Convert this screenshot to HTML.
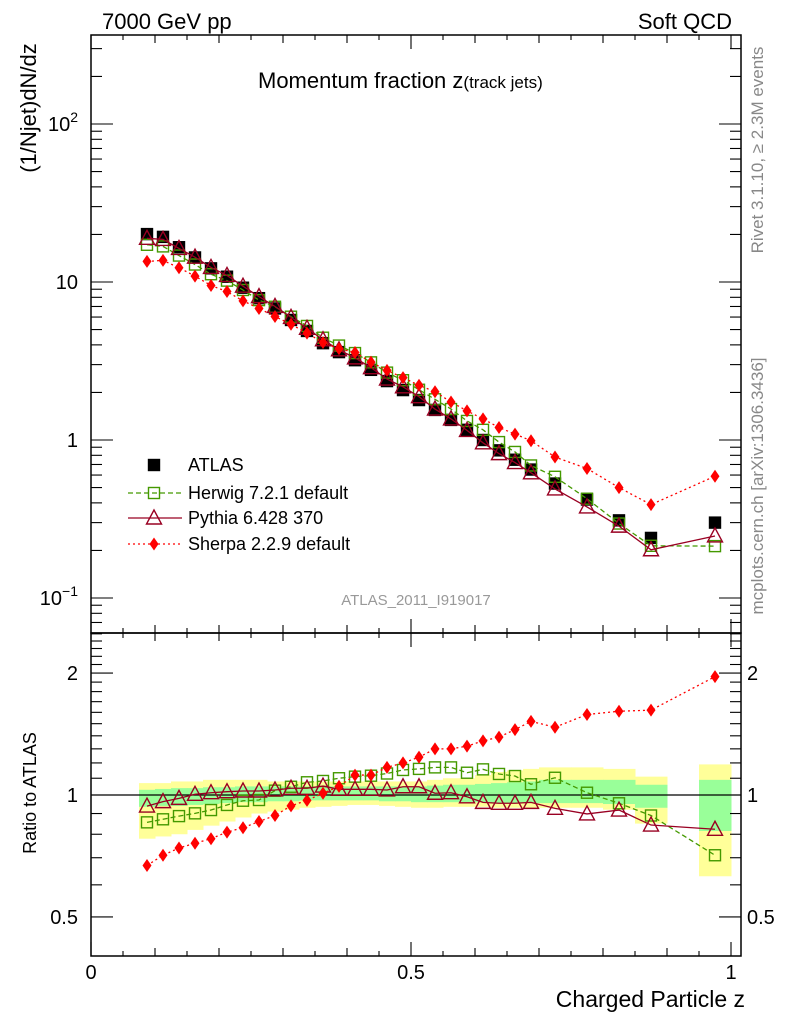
<!DOCTYPE html>
<html><head><meta charset="utf-8"><style>
html,body{margin:0;padding:0;background:#fff}
svg{display:block;font-family:"Liberation Sans",sans-serif}
</style></head><body>
<svg id="c" width="786" height="1024" viewBox="0 0 786 1024" xmlns="http://www.w3.org/2000/svg">
<g id="bands"></g>
<g id="series"></g>
<g id="axes"></g>
<text x="102" y="29" font-size="22">7000 GeV pp</text>
<text x="732" y="29" font-size="22" text-anchor="end">Soft QCD</text>
<text x="258" y="88" font-size="22">Momentum fraction z<tspan font-size="17">(track jets)</tspan></text>
<text x="416" y="605" font-size="15" fill="#999" text-anchor="middle">ATLAS_2011_I919017</text>
<text transform="translate(763,150) rotate(-90)" font-size="17" fill="#888" text-anchor="middle">Rivet 3.1.10, ≥ 2.3M events</text>
<text transform="translate(763,486) rotate(-90)" font-size="17" fill="#888" text-anchor="middle">mcplots.cern.ch [arXiv:1306.3436]</text>
<text transform="translate(36,108) rotate(-90)" font-size="22" text-anchor="middle">(1/Njet)dN/dz</text>
<text transform="translate(36,793) rotate(-90)" font-size="18" text-anchor="middle">Ratio to ATLAS</text>
<text x="745" y="1007" font-size="23" text-anchor="end">Charged Particle z</text>
<g id="legend"></g>
</svg>
<script>
const xs=[0.0875,0.1125,0.1375,0.1625,0.1875,0.2125,0.2375,0.2625,0.2875,0.3125,0.3375,0.3625,0.3875,0.4125,0.4375,0.4625,0.4875,0.5125,0.5375,0.5625,0.5875,0.6125,0.6375,0.6625,0.6875,0.725,0.775,0.825,0.875,0.975];
const xw=[0.0125,0.0125,0.0125,0.0125,0.0125,0.0125,0.0125,0.0125,0.0125,0.0125,0.0125,0.0125,0.0125,0.0125,0.0125,0.0125,0.0125,0.0125,0.0125,0.0125,0.0125,0.0125,0.0125,0.0125,0.0125,0.025,0.025,0.025,0.025,0.025];
const atlas=[20.1,19.3,16.6,14.3,12.2,10.8,9.2,7.9,6.8,5.75,4.9,4.1,3.6,3.2,2.78,2.36,2.07,1.79,1.55,1.34,1.16,1.0,0.86,0.75,0.65,0.53,0.42,0.31,0.24,0.30];
const herwig=[17.2,16.8,14.7,12.9,11.2,10.2,8.9,7.68,6.97,6.03,5.27,4.44,3.96,3.55,3.10,2.67,2.39,2.08,1.81,1.57,1.32,1.16,0.97,0.84,0.69,0.585,0.425,0.296,0.214,0.213];
const pythia=[18.9,18.6,16.3,14.36,12.36,11.0,9.41,8.08,7.0,5.97,5.09,4.31,3.72,3.31,2.87,2.43,2.17,1.88,1.57,1.36,1.15,0.96,0.82,0.72,0.62,0.49,0.377,0.285,0.202,0.247];
const sherpa=[13.5,13.7,12.3,10.9,9.5,8.7,7.6,6.8,6.05,5.4,4.75,4.14,3.78,3.58,3.11,2.76,2.48,2.22,2.02,1.74,1.53,1.36,1.2,1.09,0.99,0.78,0.66,0.5,0.39,0.59];
const rHerwig=[0.856,0.871,0.887,0.901,0.918,0.945,0.968,0.972,1.025,1.048,1.075,1.083,1.10,1.11,1.116,1.13,1.153,1.16,1.17,1.17,1.135,1.157,1.127,1.114,1.063,1.103,1.013,0.954,0.89,0.71];
const rPythia=[0.939,0.963,0.981,1.004,1.013,1.019,1.023,1.023,1.029,1.039,1.039,1.052,1.033,1.033,1.033,1.029,1.048,1.048,1.01,1.013,0.99,0.959,0.954,0.954,0.959,0.927,0.898,0.918,0.843,0.823];
const rSherpa=[0.67,0.71,0.74,0.76,0.78,0.81,0.83,0.86,0.89,0.94,0.97,1.01,1.05,1.12,1.12,1.17,1.20,1.24,1.30,1.30,1.32,1.36,1.39,1.45,1.52,1.47,1.58,1.61,1.62,1.96];
const yLo=[0.78,0.79,0.80,0.82,0.84,0.86,0.88,0.90,0.91,0.92,0.93,0.935,0.94,0.945,0.945,0.94,0.935,0.93,0.93,0.935,0.935,0.935,0.93,0.93,0.93,0.93,0.93,0.92,0.85,0.63];
const yHi=[1.07,1.07,1.08,1.08,1.09,1.09,1.09,1.09,1.08,1.08,1.08,1.08,1.08,1.08,1.08,1.08,1.08,1.08,1.09,1.10,1.10,1.12,1.14,1.15,1.16,1.17,1.17,1.16,1.11,1.19];
const gLo=[0.935,0.94,0.94,0.945,0.95,0.955,0.96,0.96,0.965,0.965,0.97,0.97,0.97,0.97,0.97,0.965,0.965,0.96,0.96,0.96,0.96,0.96,0.955,0.955,0.955,0.955,0.955,0.95,0.93,0.815];
const gHi=[1.03,1.035,1.04,1.04,1.045,1.045,1.05,1.05,1.05,1.05,1.05,1.05,1.05,1.05,1.05,1.05,1.05,1.05,1.055,1.06,1.06,1.065,1.07,1.075,1.08,1.09,1.09,1.09,1.06,1.09];
const mainTickLabels=["10⁻¹","1","10","10²"];
const ratioTickLabels=["0.5","1","2"];
const xTickLabels=["0","0.5","1"];

const NS="http://www.w3.org/2000/svg";
const L=91,R=741,MT=35,MB=633,RB=956;
const X=v=>L+v*640;
const Y=v=>440-158*Math.log10(v);
const YR=v=>795-405*Math.log10(v);
function mk(tag,attrs,parent){const e=document.createElementNS(NS,tag);for(const k in attrs)e.setAttribute(k,attrs[k]);parent.appendChild(e);return e;}
const bands=document.getElementById('bands'),ser=document.getElementById('series'),ax=document.getElementById('axes'),leg=document.getElementById('legend');

for(let i=0;i<xs.length;i++){
  let r=mk('rect',{x:X(xs[i]-xw[i]),y:YR(yHi[i]),width:X(xs[i]+xw[i])-X(xs[i]-xw[i])+0.5,height:YR(yLo[i])-YR(yHi[i]),fill:'#ffff99'},bands);
  
  
}
for(let i=0;i<xs.length;i++){
  let r=mk('rect',{x:X(xs[i]-xw[i]),y:YR(gHi[i]),width:X(xs[i]+xw[i])-X(xs[i]-xw[i])+0.5,height:YR(gLo[i])-YR(gHi[i]),fill:'#99ff99'},bands);
  
  
}
let one=mk('line',{x1:L,x2:R,y1:YR(1),y2:YR(1),stroke:'#000','stroke-width':1.3},bands);



function square(g,cx,cy,filled,col){return mk('rect',{x:cx-5.5,y:cy-5.5,width:11,height:11,fill:filled?col:'none',stroke:col,'stroke-width':1.4},g);}
function tri(g,cx,cy,col){return mk('polygon',{points:`${cx},${cy-8} ${cx-7.5},${cy+6} ${cx+7.5},${cy+6}`,fill:'none',stroke:col,'stroke-width':1.4},g);}
function dia(g,cx,cy,col){return mk('polygon',{points:`${cx},${cy-6.5} ${cx+4.5},${cy} ${cx},${cy+6.5} ${cx-4.5},${cy}`,fill:col},g);}

function drawSeries(vals,yf,col,dash,marker,name){
  const g=mk('g',{},ser);
  
  
  if(col){
    let p=mk('polyline',{points:xs.map((x,i)=>X(x)+','+yf(vals[i])).join(' '),fill:'none',stroke:col,'stroke-width':1.3,'stroke-dasharray':dash},g);
    
    
  }
  xs.forEach((x,i)=>{
    let m;
    if(marker==='sq')m=square(g,X(x),yf(vals[i]),false,'#449900');
    else if(marker==='tri')m=tri(g,X(x),yf(vals[i]),'#990022');
    else if(marker==='dia')m=dia(g,X(x),yf(vals[i]),'#ff0000');
    else m=square(g,X(x),yf(vals[i]),true,'#000');
    
    
  });
}
drawSeries(atlas,Y,null,'','atlas','atlas-data');
drawSeries(herwig,Y,'#449900','5,3','sq','herwig-series');
drawSeries(pythia,Y,'#990022','','tri','pythia-series');
drawSeries(sherpa,Y,'#ff0000','2,3','dia','sherpa-series');
drawSeries(rHerwig,YR,'#449900','5,3','sq','herwig-ratio');
drawSeries(rPythia,YR,'#990022','','tri','pythia-ratio');
drawSeries(rSherpa,YR,'#ff0000','2,3','dia','sherpa-ratio');

[[MT,MB],[MB,RB]].forEach((p,k)=>{
  let r=mk('rect',{x:L,y:p[0],width:R-L,height:p[1]-p[0],fill:'none',stroke:'#000','stroke-width':1.5},ax);
  
  
});
function tk(x1,y1,x2,y2){let t=mk('line',{x1,y1,x2,y2,stroke:'#000','stroke-width':1.1},ax);}
function lbl(x,y,s,anchor,size,name){let t=mk('text',{x,y,'font-size':size,'text-anchor':anchor},ax);t.textContent=s;return t;}
for(let k=0;k<=20;k++){
  const v=k*0.05,x=X(v);if(x>R)break;
  const len=k%10===0?14:(k%2===0?8:5);
  tk(x,RB,x,RB-len);tk(x,MB,x,MB-len);tk(x,MB,x,MB+len);tk(x,MT,x,MT+len);
}
xTickLabels.forEach((s,i)=>lbl(X(i*0.5),979,s,'middle',20,'x-tick-label'));
for(let d=-2;d<=2;d++)for(let m=1;m<=9;m++){
  const v=m*Math.pow(10,d),y=Y(v);if(y<MT||y>MB)continue;
  const len=m===1?22:11;tk(L,y,L+len,y);tk(R,y,R-len,y);
}
mainTickLabels.forEach((s,i)=>{
  const y=Y(Math.pow(10,i-1));
  const t=lbl(78,y+7,'', 'end',20,'y-tick-label');
  if(s.indexOf('10')===0&&s.length>2){t.textContent='10';const sp=mk('tspan',{'font-size':14,dy:-9},t);sp.textContent=s.slice(2).replace('⁻¹','−1').replace('²','2');}
  else t.textContent=s;
});
for(let k=4;k<=25;k++){
  const v=k/10,y=YR(v);if(y<MB||y>RB)continue;
  const len=(k===5||k===10||k===20)?22:11;tk(L,y,L+len,y);tk(R,y,R-len,y);
}
ratioTickLabels.forEach(s=>{const y=YR(parseFloat(s))+7;lbl(78,y,s,'end',20,'ratio-tick-label');lbl(747,y,s,'start',20,'ratio-tick-label-right');});

const legNames=["ATLAS","Herwig 7.2.1 default","Pythia 6.428 370","Sherpa 2.2.9 default"];
const legY=[465,493,518,544];
legNames.forEach((n,i)=>{
  const g=mk('g',{},leg);
  
  
  const y=legY[i];
  if(i===0)square(g,154,y,true,'#000');
  if(i===1){mk('line',{x1:128,x2:182,y1:y,y2:y,stroke:'#449900','stroke-width':1.3,'stroke-dasharray':'5,3'},g);square(g,154,y,false,'#449900');}
  if(i===2){mk('line',{x1:128,x2:182,y1:y,y2:y,stroke:'#990022','stroke-width':1.3},g);tri(g,154,y,'#990022');}
  if(i===3){mk('line',{x1:128,x2:182,y1:y,y2:y,stroke:'#ff0000','stroke-width':1.3,'stroke-dasharray':'2,3'},g);dia(g,154,y,'#ff0000');}
  const t=mk('text',{x:188,y:y+6,'font-size':18},g);t.textContent=n;
});
</script>
</body></html>
